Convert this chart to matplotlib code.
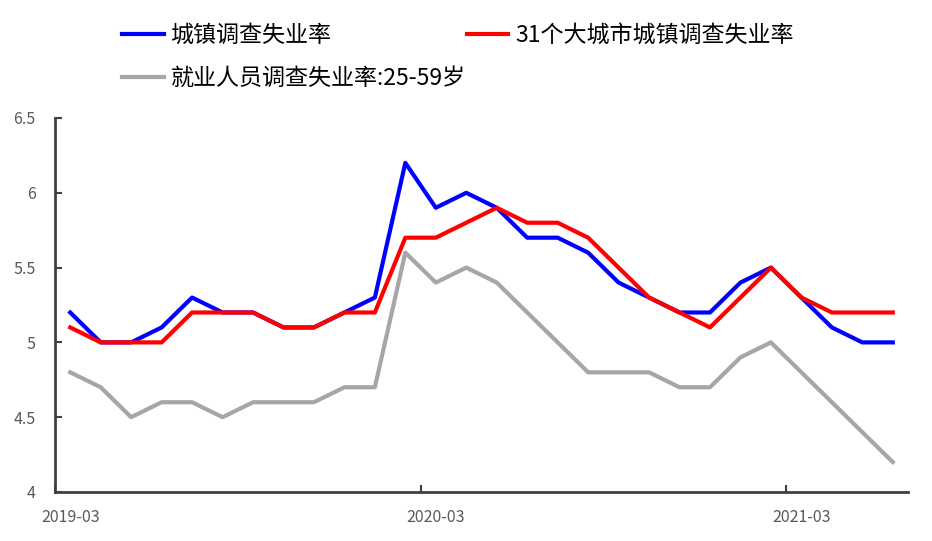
import matplotlib.pyplot as plt
import numpy as np

plt.rcParams['font.family'] = ['Noto Sans CJK SC', 'DejaVu Sans']

# monthly data, 2019-03 .. 2021-06
months = ['2019-03', '2019-04', '2019-05', '2019-06', '2019-07', '2019-08', '2019-09',
          '2019-10', '2019-11', '2019-12', '2020-01', '2020-02', '2020-03', '2020-04',
          '2020-05', '2020-06', '2020-07', '2020-08', '2020-09', '2020-10', '2020-11',
          '2020-12', '2021-01', '2021-02', '2021-03', '2021-04', '2021-05', '2021-06']
urban = [5.2, 5.0, 5.0, 5.1, 5.3, 5.2, 5.2, 5.1, 5.1, 5.2, 5.3, 6.2, 5.9, 6.0,
         5.9, 5.7, 5.7, 5.6, 5.4, 5.3, 5.2, 5.2, 5.4, 5.5, 5.3, 5.1, 5.0, 5.0]
city31 = [5.1, 5.0, 5.0, 5.0, 5.2, 5.2, 5.2, 5.1, 5.1, 5.2, 5.2, 5.7, 5.7, 5.8,
          5.9, 5.8, 5.8, 5.7, 5.5, 5.3, 5.2, 5.1, 5.3, 5.5, 5.3, 5.2, 5.2, 5.2]
age25_59 = [4.8, 4.7, 4.5, 4.6, 4.6, 4.5, 4.6, 4.6, 4.6, 4.7, 4.7, 5.6, 5.4, 5.5,
            5.4, 5.2, 5.0, 4.8, 4.8, 4.8, 4.7, 4.7, 4.9, 5.0, 4.8, 4.6, 4.4, 4.2]
label_months = ['2019-03', '2020-03', '2021-03']

fig = plt.figure(figsize=(9.32, 5.41), dpi=100)
ax = fig.add_axes([55 / 932, 49 / 541, 853 / 932, 374 / 541])

x = np.arange(len(months)) + 0.5
l1, = ax.plot(x, urban, color='#0000FF', lw=3, label='城镇调查失业率')
l2, = ax.plot(x, city31, color='#FF0000', lw=3, label='31个大城市城镇调查失业率')
l3, = ax.plot(x, age25_59, color='#A6A6A6', lw=3, label='就业人员调查失业率:25-59岁')

ax.set_xlim(0, len(months))
ax.set_ylim(4, 6.5)
ax.set_yticks([4, 4.5, 5, 5.5, 6, 6.5])
ax.set_yticklabels(['4', '4.5', '5', '5.5', '6', '6.5'])

# tick marks at month boundaries, labels centred on the month
idx = [months.index(m) for m in label_months]
ax.set_xticks(idx)
ax.set_xticklabels([])
ax.set_xticks([i + 0.5 for i in idx], minor=True)
ax.set_xticklabels(label_months, minor=True)
ax.tick_params(axis='x', which='minor', length=0, pad=12)
ax.tick_params(axis='both', which='major', direction='in', length=5, width=1.5,
               color='#404040')
ax.tick_params(axis='y', pad=14)
ax.tick_params(axis='both', which='both', labelsize=11.5, labelcolor='#595959')

for s in ['top', 'right']:
    ax.spines[s].set_visible(False)
for s in ['left', 'bottom']:
    ax.spines[s].set_color('#404040')
    ax.spines[s].set_linewidth(2)

fig.legend([l1, l3, l2], [l1.get_label(), l3.get_label(), l2.get_label()],
           ncol=2, loc='upper left', bbox_to_anchor=(122 / 932, 1 - 24 / 541),
           frameon=False, fontsize=16.6, handlelength=1.8, handletextpad=0.3,
           columnspacing=0.05, labelspacing=0.88, borderpad=0, borderaxespad=0)

fig.savefig('out.png', dpi=100)
